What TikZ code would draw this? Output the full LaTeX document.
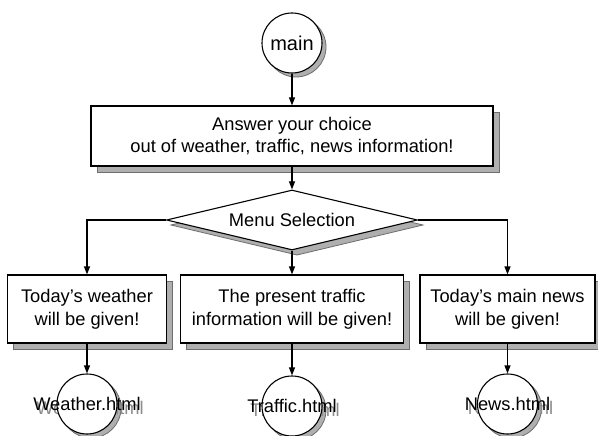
\documentclass[tikz,border=0pt]{standalone}
\usepackage{fontspec}
\setmainfont{Liberation Sans}
\usetikzlibrary{shapes.geometric,arrows.meta}
\definecolor{shadegray}{RGB}{175,175,175}
\definecolor{shadeline}{RGB}{110,110,110}
\definecolor{ghostgray}{RGB}{140,140,140}
\begin{document}
\begin{tikzpicture}[x=1pt,y=-1pt,
  every node/.style={font=\fontsize{18.3}{22}\selectfont},
  outline/.style={draw=black, line width=1.1pt, fill=white},
  box/.style={outline, rectangle, align=center, inner sep=2pt},
  tallbox/.style={box, minimum height=68pt, font=\fontsize{18.3}{23}\selectfont},
  choice/.style={outline, diamond, aspect=4.18, inner sep=0pt, minimum width=251pt, minimum height=60pt},
  roundnode/.style={outline, circle, inner sep=0pt, minimum size=60pt},
  ghost/.style={text=ghostgray},
  shadowfill/.style={fill=shadegray, draw=shadeline, line width=0.8pt},
  flow/.style={line width=1.1pt, -{Triangle[length=8pt,width=6pt]}}]

\path[fill=white] (0,0) rectangle (598,436);
\useasboundingbox (0,0) rectangle (598,436);

% drop shadows, laid down before the shapes that cover them
\path[shadowfill] (296,47) circle (30);
\path[shadowfill] (97,112) rectangle (499,172);
\path[shadowfill] (297,195) -- (423,225) -- (297,255) -- (171,225) -- cycle;
\path[shadowfill] (13,281) rectangle (172,349);
\path[shadowfill] (186,281) rectangle (409,349);
\path[shadowfill] (426,281) rectangle (601,349);
\path[shadowfill] (91,408) circle (30);
\path[shadowfill] (296,410) circle (30);
\path[shadowfill] (511.5,408) circle (30);

% start
\node[roundnode, font=\fontsize{20}{24}\selectfont] (main) at (292,43) {main};

% prompt box and menu decision
\node[box, minimum width=402pt, minimum height=60pt] (ask) at (292,136)
  {Answer your choice\\out of weather, traffic, news information!};
\node[choice] (menu) at (292,220) {Menu Selection};

% the three answers
\node[tallbox, minimum width=159pt] (wbox) at (87,309)
  {Today's weather\\will be given!};
\node[tallbox, minimum width=223pt] (tbox) at (292,309)
  {The present traffic\\information will be given!};
\node[tallbox, minimum width=175pt] (nbox) at (507.5,309)
  {Today's main news\\will be given!};

% result pages: shaded text first, then the circle, then the label on top
\node[ghost] (wghost) at (90,408) {Weather.html};
\node[roundnode] (web) at (87,404) {};
\node (webtxt) at (web) {Weather.html};

\node[ghost] (tghost) at (295,410) {Traffic.html};
\node[roundnode] (traffic) at (292,406) {};
\node (traffictxt) at (traffic) {Traffic.html};

\node[ghost] (nghost) at (510.5,408) {News.html};
\node[roundnode] (news) at (507.5,404) {};
\node (newstxt) at (news) {News.html};

% connectors
\draw[flow] (main) -- (ask);
\draw[flow] (ask) -- (menu);
\draw[flow] (menu.west) -| (wbox.north);
\draw[flow] (menu) -- (tbox);
\draw[flow] (menu.east) -| (nbox.north);
\draw[flow] (wbox) -- (web);
\draw[flow] (tbox) -- (traffic);
\draw[flow] (nbox) -- (news);
\end{tikzpicture}
\end{document}
